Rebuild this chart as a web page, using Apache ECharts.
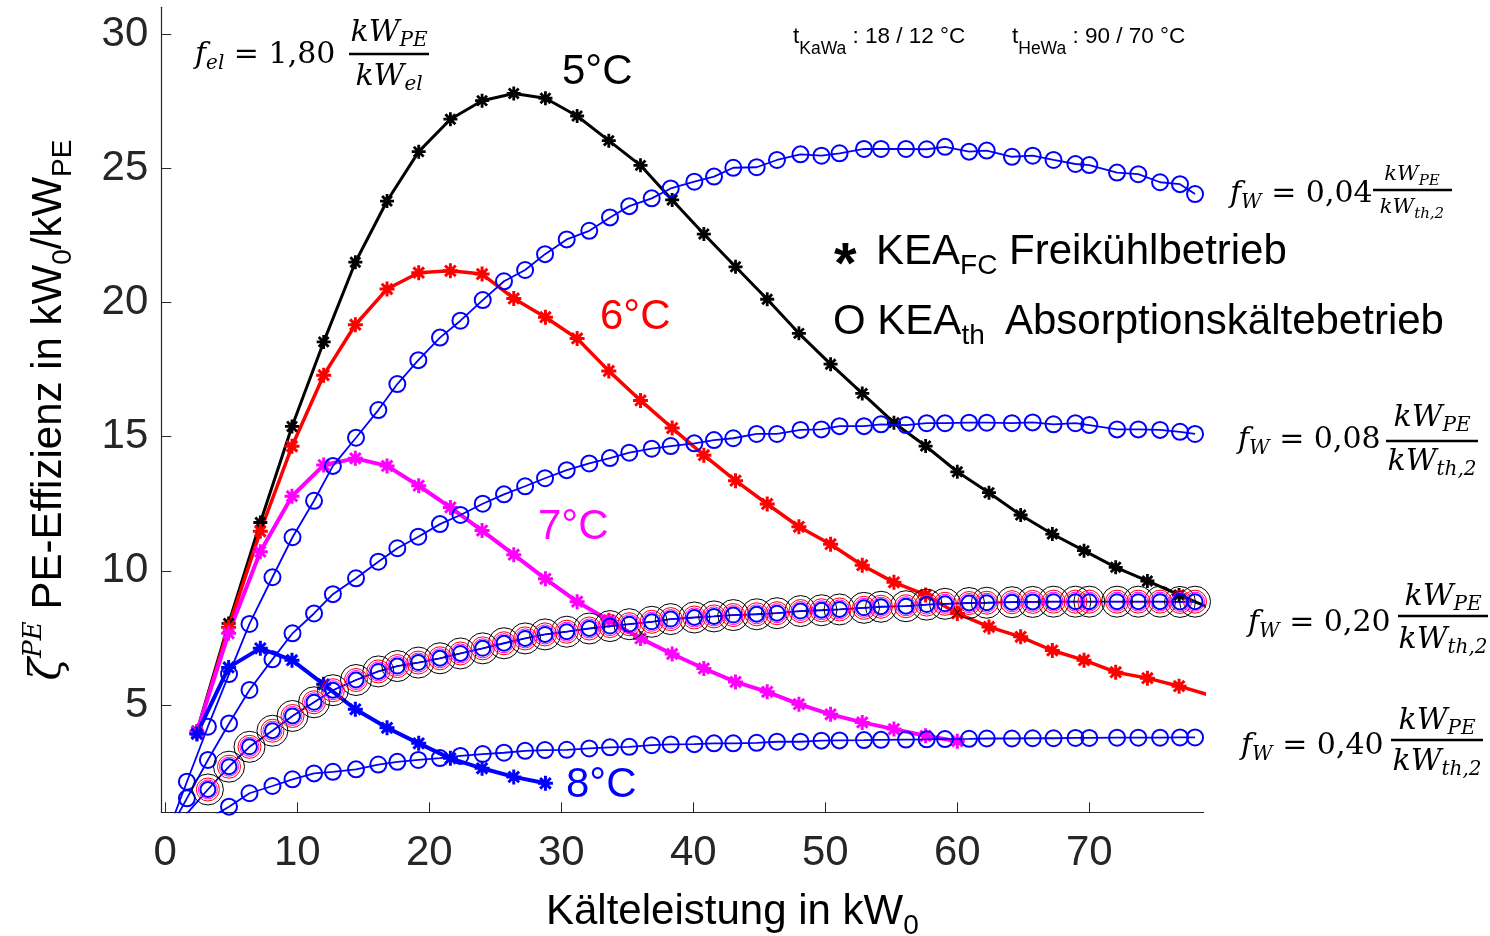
<!DOCTYPE html>
<html><head><meta charset="utf-8">
<script src="https://cdn.jsdelivr.net/npm/echarts@6/dist/echarts.min.js"></script>
<style>html,body{margin:0;padding:0;background:#fff}#c{width:1490px;height:936px}</style>
</head><body><div id="c"></div>
<script>
// ---------------- data ----------------
const xTicks = [0, 10, 20, 30, 40, 50, 60, 70];
const yTicks = [5, 10, 15, 20, 25, 30];

// KEA_FC (free cooling) x positions [kW0]
const starX = [2.4, 4.8, 7.2, 9.6, 12.0, 14.4, 16.8, 19.2, 21.6, 24.0, 26.4, 28.8, 31.2, 33.6, 36.0, 38.4,
  40.8, 43.2, 45.6, 48.0, 50.4, 52.8, 55.2, 57.6, 60.0, 62.4, 64.8, 67.2, 69.6, 72.0, 74.4, 76.8, 79.2];
const fc5 = [4.03, 8.04, 11.8, 15.38, 18.53, 21.5, 23.78, 25.62, 26.83, 27.52, 27.79, 27.61, 26.95, 26.03, 25.11, 23.82,
  22.55, 21.33, 20.12, 18.85, 17.7, 16.61, 15.52, 14.65, 13.69, 12.91, 12.08, 11.37, 10.75, 10.13, 9.62, 9.10, 8.6];
const fc6 = [3.95, 7.9, 11.47, 14.64, 17.29, 19.17, 20.5, 21.11, 21.18, 21.06, 20.15, 19.45, 18.66, 17.45, 16.35, 15.32,
  14.31, 13.36, 12.49, 11.64, 10.99, 10.21, 9.57, 9.10, 8.41, 7.91, 7.54, 7.03, 6.67, 6.22, 6.0, 5.7, 5.35];
const fc7 = [4.0, 7.67, 10.71, 12.78, 13.94, 14.19, 13.91, 13.17, 12.36, 11.5, 10.6, 9.7, 8.85, 8.16, 7.48, 6.90,
  6.36, 5.86, 5.49, 5.03, 4.65, 4.35, 4.1, 3.85, 3.65];
const fc8 = [3.92, 6.4, 7.11, 6.67, 5.77, 4.84, 4.15, 3.57, 3.01, 2.64, 2.32, 2.08];

// KEA_th (absorption) x positions [kW0]
const circX = [0, 1.64, 3.23, 4.83, 6.38, 8.12, 9.64, 11.27, 12.70, 14.45, 16.14, 17.58, 19.17, 20.81, 22.36, 24.05,
  25.66, 27.26, 28.77, 30.41, 32.12, 33.69, 35.15, 36.85, 38.29, 40.08, 41.57, 43.03, 44.80, 46.34, 48.12, 49.71,
  51.08, 52.93, 54.22, 56.11, 57.68, 59.07, 60.89, 62.23, 64.14, 65.71, 67.29, 68.95, 70.00, 72.10, 73.71, 75.36,
  76.87, 78.01];
const th004 = [0.0, 2.14, 4.19, 6.15, 8.02, 9.76, 11.25, 12.61, 13.91, 14.96, 15.99, 16.96, 17.85, 18.69, 19.32, 20.09,
  20.79, 21.21, 21.80, 22.35, 22.67, 23.17, 23.59, 23.88, 24.25, 24.50, 24.69, 25.02, 25.04, 25.31, 25.52, 25.47,
  25.56, 25.72, 25.72, 25.72, 25.71, 25.80, 25.62, 25.66, 25.43, 25.47, 25.31, 25.16, 25.12, 24.84, 24.78, 24.48,
  24.41, 24.04];
const th008 = [0.05, 1.52, 2.95, 4.31, 5.56, 6.70, 7.67, 8.41, 9.13, 9.72, 10.34, 10.84, 11.27, 11.74, 12.08, 12.5,
  12.85, 13.15, 13.45, 13.75, 14.0, 14.2, 14.4, 14.55, 14.65, 14.75, 14.87, 14.94, 15.10, 15.10, 15.25, 15.27,
  15.39, 15.39, 15.46, 15.43, 15.50, 15.50, 15.52, 15.52, 15.50, 15.53, 15.46, 15.50, 15.43, 15.27, 15.27, 15.25,
  15.18, 15.10];
const th020 = [0.0, 0.95, 1.85, 2.70, 3.44, 4.04, 4.59, 5.10, 5.55, 5.93, 6.25, 6.45, 6.58, 6.74, 6.92, 7.11,
  7.30, 7.48, 7.63, 7.73, 7.85, 7.94, 8.01, 8.10, 8.20, 8.26, 8.30, 8.35, 8.38, 8.42, 8.50, 8.53,
  8.56, 8.62, 8.66, 8.68, 8.74, 8.77, 8.80, 8.81, 8.83, 8.84, 8.85, 8.85, 8.85, 8.85, 8.85, 8.85,
  8.84, 8.85];
const th040 = [0.0, 0.4, 0.75, 1.21, 1.71, 1.98, 2.23, 2.45, 2.51, 2.60, 2.78, 2.88, 2.95, 3.02, 3.10, 3.17,
  3.22, 3.29, 3.32, 3.33, 3.38, 3.42, 3.44, 3.50, 3.53, 3.54, 3.57, 3.57, 3.59, 3.63, 3.63, 3.67,
  3.68, 3.69, 3.70, 3.71, 3.72, 3.73, 3.74, 3.75, 3.75, 3.76, 3.76, 3.77, 3.77, 3.78, 3.78, 3.78,
  3.79, 3.79];

// ---------------- helpers ----------------
const SANS = "'Liberation Sans', Arial, sans-serif";
const SERIF = "'DejaVu Serif', 'Liberation Serif', serif";
const mctx = document.createElement('canvas').getContext('2d');
function fnt(p) { return (p.it ? 'italic ' : '') + (p.b ? 'bold ' : '') + p.s + 'px ' + (p.f || SANS); }
function tw(p) { mctx.font = fnt(p); return mctx.measureText(p.t).width; }
function txt(parts, x, base, align, color) {
  const w = parts.reduce((a, p) => a + tw(p), 0);
  let cx = align === 'center' ? x - w / 2 : align === 'right' ? x - w : x;
  const els = [];
  parts.forEach(p => {
    els.push({ type: 'text', x: cx, y: base + (p.dy || 0) - 0.3 * p.s, silent: true,
      style: { text: p.t, font: fnt(p), fill: p.c || color || '#000', textAlign: 'left', verticalAlign: 'middle' } });
    cx += tw(p);
  });
  return els;
}
function hline(x1, x2, y, w) {
  return { type: 'line', silent: true, shape: { x1: x1, y1: y, x2: x2, y2: y }, style: { stroke: '#000', lineWidth: w || 2 } };
}
function zip(xs, ys) { return ys.map((y, i) => [xs[i], y]); }

// asterisk marker (8 arms)
const STAR = 'path://M-0.2,-1L0.2,-1L0.2,1L-0.2,1Z M-1,-0.2L1,-0.2L1,0.2L-1,0.2Z ' +
  'M-0.566,-0.849L0.849,0.566L0.566,0.849L-0.849,-0.566Z M-0.849,0.566L0.566,-0.849L0.849,-0.566L-0.566,0.849Z';

function starSeries(ys, color, lw, size) {
  return { type: 'line', data: zip(starX, ys), symbol: STAR, symbolSize: size, showAllSymbol: true, clip: true,
    silent: true, emphasis: { disabled: true }, itemStyle: { color: color }, lineStyle: { color: color, width: lw }, z: 2 };
}
function circSeries(ys, color, size, bw, lw, z) {
  return { type: 'line', data: zip(circX, ys), symbol: 'circle', symbolSize: size, showAllSymbol: true, clip: true,
    silent: true, emphasis: { disabled: true },
    itemStyle: { color: 'rgba(0,0,0,0)', borderColor: color, borderWidth: bw },
    lineStyle: { color: color, width: lw }, z: z };
}

// ---------------- annotations ----------------
const M = 30, MS = 20;
const g = [];
function fw(x, base, val, cx, x1, x2, ly, nb, db, s, ss) {
  g.push(...txt([{ t: 'f', it: 1, s: M, f: SERIF }, { t: 'W', it: 1, s: MS, f: SERIF, dy: 6 }, { t: ' = ' + val, s: M, f: SERIF }], x, base, 'left'));
  g.push(...txt([{ t: 'kW', it: 1, s: s, f: SERIF }, { t: 'PE', it: 1, s: ss, f: SERIF, dy: 5 }], cx, nb, 'center'));
  g.push(...txt([{ t: 'kW', it: 1, s: s, f: SERIF }, { t: 'th,2', it: 1, s: ss, f: SERIF, dy: 5 }], cx, db, 'center'));
  g.push(hline(x1, x2, ly, 2.5));
}
// f_el
g.push(...txt([{ t: 'f', it: 1, s: M, f: SERIF }, { t: 'el', it: 1, s: MS, f: SERIF, dy: 6 }, { t: ' = 1,80', s: M, f: SERIF }], 195, 64, 'left'));
g.push(...txt([{ t: 'kW', it: 1, s: M, f: SERIF }, { t: 'PE', it: 1, s: MS, f: SERIF, dy: 5 }], 389, 42, 'center'));
g.push(...txt([{ t: 'kW', it: 1, s: M, f: SERIF }, { t: 'el', it: 1, s: MS, f: SERIF, dy: 5 }], 389, 86, 'center'));
g.push(hline(349, 429, 54, 2.5));
fw(1230, 203, '0,04', 1412, 1373, 1452, 190, 181, 214, 21, 15);
fw(1238, 449, '0,08', 1432, 1386, 1478, 441, 427, 471, M, MS);
fw(1248, 632, '0,20', 1443, 1398, 1488, 616, 606, 649, M, MS);
fw(1241, 755, '0,40', 1437, 1391, 1483, 740, 730, 771, M, MS);

// header temperatures
g.push(...txt([{ t: 't', s: 22.5 }, { t: 'KaWa', s: 17.5, dy: 10 }, { t: ' : 18 / 12 °C', s: 22.5 }], 793, 44, 'left', '#000'));
g.push(...txt([{ t: 't', s: 22.5 }, { t: 'HeWa', s: 17.5, dy: 10 }, { t: ' : 90 / 70 °C', s: 22.5 }], 1012, 44, 'left', '#000'));

// legend-like text
g.push(...txt([{ t: '*', s: 58, b: 1 }], 834, 284, 'left', '#000'));
g.push(...txt([{ t: 'KEA', s: 42 }, { t: 'FC', s: 28, dy: 10 }, { t: ' Freikühlbetrieb', s: 42 }], 876, 265, 'left', '#000'));
g.push(...txt([{ t: 'O KEA', s: 42 }, { t: 'th', s: 28, dy: 10 }], 833, 335, 'left', '#000'));
g.push(...txt([{ t: 'Absorptionskältebetrieb', s: 42 }], 1005, 335, 'left', '#000'));

// curve labels
g.push(...txt([{ t: '5°C', s: 42 }], 562, 85, 'left', '#000'));
g.push(...txt([{ t: '6°C', s: 42 }], 600, 330, 'left', '#ff0000'));
g.push(...txt([{ t: '7°C', s: 42 }], 538, 540, 'left', '#ff00ff'));
g.push(...txt([{ t: '8°C', s: 42 }], 566, 798, 'left', '#0000ff'));

// axis titles
g.push(...txt([{ t: 'Kälteleistung in kW', s: 42 }, { t: '0', s: 28, dy: 10 }], 546, 925, 'left', '#000'));
g.push({ type: 'group', x: 62, y: 410, rotation: Math.PI / 2, silent: true,
  children: txt([{ t: 'ζ', it: 1, s: 42, f: SERIF }, { t: 'PE', it: 1, s: 26, f: SERIF, dy: -20 },
    { t: ' PE-Effizienz in kW', s: 42 }, { t: '0', s: 28, dy: 10 }, { t: '/kW', s: 42 }, { t: 'PE', s: 28, dy: 10 }], 0, 0, 'center', '#000') });

// ---------------- chart ----------------
const AX = '#262626';
const option = {
  animation: false,
  backgroundColor: '#fff',
  grid: { left: 161.3, top: 7.3, width: 1042.2, height: 805 },
  xAxis: {
    type: 'value', min: -0.3, max: 78.65,
    axisLine: { show: true, onZero: false, lineStyle: { color: AX, width: 1.2 } },
    axisTick: { show: true, inside: true, length: 10, customValues: xTicks, lineStyle: { color: AX } },
    axisLabel: { customValues: xTicks, fontSize: 42, fontFamily: SANS, color: AX, margin: 20 },
    splitLine: { show: false }
  },
  yAxis: {
    type: 'value', min: 1, max: 31,
    axisLine: { show: true, onZero: false, lineStyle: { color: AX, width: 1.2 } },
    axisTick: { show: true, inside: true, length: 10, customValues: yTicks, lineStyle: { color: AX } },
    axisLabel: { customValues: yTicks, fontSize: 42, fontFamily: SANS, color: AX, margin: 13 },
    splitLine: { show: false }
  },
  series: [
    starSeries(fc5, '#000000', 3, 14),
    starSeries(fc6, '#ff0000', 3.5, 15),
    starSeries(fc7, '#ff00ff', 4, 15),
    starSeries(fc8, '#0000ff', 4, 15),
    circSeries(th004, '#0000ff', 16, 2, 1.8, 3),
    circSeries(th008, '#0000ff', 16, 2, 1.8, 3),
    circSeries(th040, '#0000ff', 16, 2, 1.8, 3),
    circSeries(th020, '#000000', 31, 1, 1, 3),
    circSeries(th020, '#ff0000', 23, 1, 1, 3),
    circSeries(th020, '#ff00ff', 19, 1, 1, 3),
    circSeries(th020, '#0000ff', 15, 2, 1.8, 3)
  ],
  graphic: g
};
const chart = echarts.init(document.getElementById('c'), null, { renderer: 'canvas' });
chart.setOption(option);
</script></body></html>
